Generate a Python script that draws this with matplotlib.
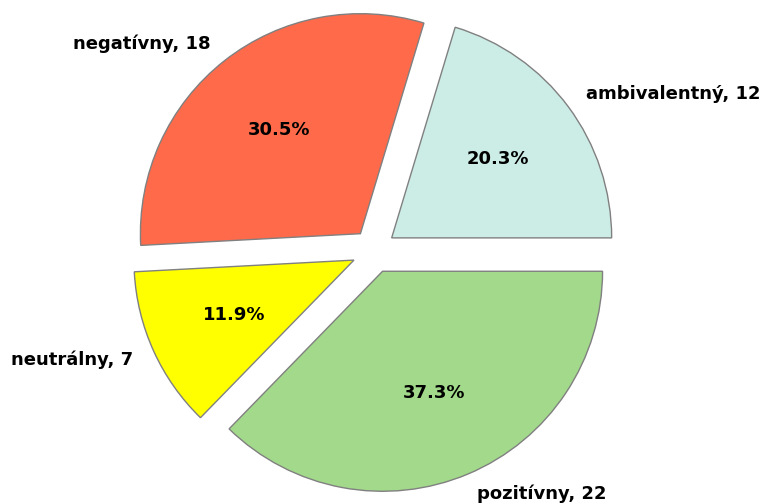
import matplotlib
matplotlib.use("Agg")
import matplotlib.pyplot as plt

# Data
labels = ["ambivalentný", "negatívny", "neutrálny", "pozitívny"]
counts = [12, 18, 7, 22]
colors = ["#ccece6", "#ff6a4a", "#ffff00", "#a2d98a"]

fig = plt.figure(figsize=(7.68, 5.04), dpi=100)
ax = fig.add_axes([0, 0, 1, 1])

texts = [f"{l}, {c}" for l, c in zip(labels, counts)]
wedges, txt, auto = ax.pie(counts, labels=texts, colors=colors,
                           explode=[0.1] * len(counts), startangle=0,
                           autopct="%1.1f%%", pctdistance=0.6, labeldistance=1.1,
                           wedgeprops=dict(edgecolor="gray", linewidth=1),
                           textprops=dict(fontsize=13, fontweight="bold"))

# umiestnenie kruhu v obrazku (stred a polomer v pixeloch)
cx, cy, r = 374, 251, 220
ax.set_aspect("equal")
ax.set_xlim(-cx / r, (768 - cx) / r)
ax.set_ylim(-(504 - cy) / r, cy / r)
ax.axis("off")

fig.savefig("out.png", dpi=100)
